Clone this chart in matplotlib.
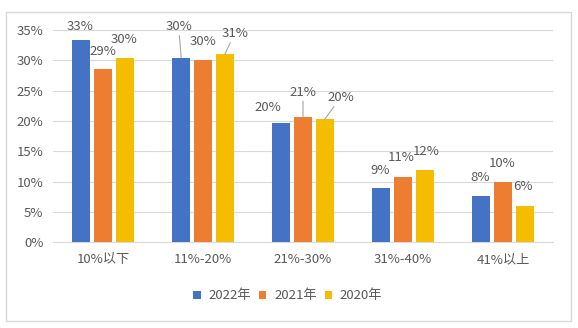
import matplotlib
matplotlib.use("Agg")
import matplotlib.pyplot as plt
from matplotlib.patches import Rectangle
import numpy as np

plt.rcParams['font.family'] = ['Noto Sans CJK SC', 'DejaVu Sans']

categories = ["10%以下", "11%-20%", "21%-30%", "31%-40%", "41%以上"]
series_names = ["2022年", "2021年", "2020年"]
v2022 = [33.4, 30.4, 19.6, 8.9, 7.7]
v2021 = [28.6, 30.1, 20.6, 10.8, 10.0]
v2020 = [30.4, 31.0, 20.3, 12.0, 6.0]
yticks = [0, 5, 10, 15, 20, 25, 30, 35]

colors = ["#4472C4", "#ED7D31", "#F5BD00"]
text_color = "#595959"
grid_color = "#D9D9D9"
FS = 9.5

# label offsets in pixels (dx, dy) relative to bar top, and whether a leader line is drawn
label_offsets = [
    [(-0.8, 13, False), (-2.6, 31.6, True), (-13, 15.6, False), (-0.7, 18.3, False), (-0.7, 18, False)],
    [(0.3, 17.6, False), (-0.2, 18, False), (0, 25.3, True), (-1.8, 19.7, False), (-0.4, 18.4, False)],
    [(-0.5, 18, False), (10, 21, True), (16, 22, True), (1.5, 17.6, False), (-1.5, 19.7, False)],
]

W, H = 578, 328
fig = plt.figure(figsize=(W / 100, H / 100), dpi=100)
ax = fig.add_axes([53 / W, 1 - 242.3 / H, 500 / W, (242.3 - 30) / H])

x = np.arange(len(categories))
step = 0.218
width = 0.175
all_vals = [v2022, v2021, v2020]
px2pt = 72 / 100
for i, (vals, name, c) in enumerate(zip(all_vals, series_names, colors)):
    xs = x + (i - 1) * step
    ax.bar(xs, vals, width=width, color=c, label=name, zorder=3)
    for j, (xx, v) in enumerate(zip(xs, vals)):
        dx, dy, leader = label_offsets[i][j]
        kw = {}
        if leader:
            kw['arrowprops'] = dict(arrowstyle='-', color='#A6A6A6', lw=0.8,
                                    shrinkA=0, shrinkB=0)
        ax.annotate(f"{round(v):d}%", xy=(xx, v), xytext=(dx * px2pt, dy * px2pt),
                    textcoords='offset points', ha='center', va='center',
                    fontsize=FS, color=text_color, zorder=4, **kw)

ax.set_xlim(-0.5, len(categories) - 0.5)
ax.set_ylim(0, 35)
ax.set_yticks(yticks)
ax.set_yticklabels([f"{t}%" for t in yticks])
ax.set_xticks(x)
ax.set_xticklabels(categories)
ax.tick_params(axis='y', length=0, pad=7, labelsize=FS, labelcolor=text_color)
ax.tick_params(axis='x', length=0, pad=8, labelsize=FS, labelcolor=text_color)
ax.grid(axis='y', color=grid_color, lw=0.8, zorder=0)
for s in ['top', 'right', 'left']:
    ax.spines[s].set_visible(False)
ax.spines['bottom'].set_color(grid_color)
ax.spines['bottom'].set_linewidth(0.8)

leg = fig.legend(loc='center', bbox_to_anchor=(0.498, 1 - 295.7 / H), ncol=3,
                 frameon=False, fontsize=FS, handlelength=0.55, handleheight=0.55,
                 handletextpad=0.6, columnspacing=0.6)
for t in leg.get_texts():
    t.set_color(text_color)

fig.patches.append(Rectangle((5.7 / W, 1 - 321 / H), (571 - 5.7) / W, (321 - 11.7) / H,
                             transform=fig.transFigure, fill=False,
                             edgecolor=grid_color, lw=1.0))

fig.savefig("out.png", dpi=100)
